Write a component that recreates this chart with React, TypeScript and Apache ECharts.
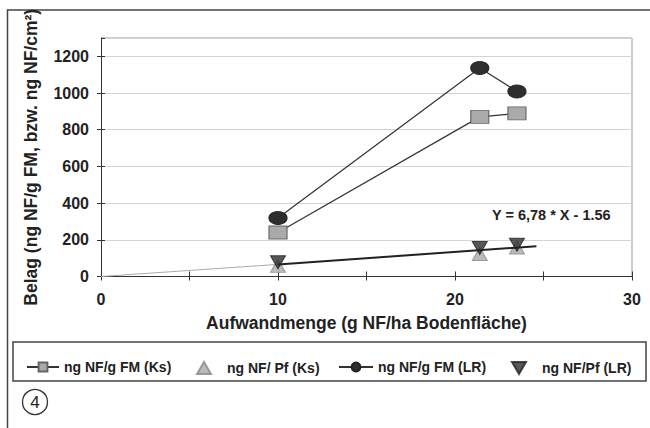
import React, { useEffect, useRef } from "react";
import * as echarts from "echarts";

const xKs = [10, 21.4, 23.5];
const fmKs = [240, 870, 889];
const pfKs = [58, 123, 158];
const fmLR = [319, 1137, 1009];
const pfLR = [78, 155, 173];
const trendThinX = [0, 10];
const trendThinY = [0, 66];
const trendX = [10, 24.6];
const trendY = [66, 165];
const xTicks = [0, 10, 20, 30];
const names = ["ng NF/g FM (Ks)", "ng NF/ Pf (Ks)", "ng NF/g FM (LR)", "ng NF/Pf (LR)"];

const FONT = "'Liberation Sans', Arial, Helvetica, sans-serif";
const zip = (xs: number[], ys: number[]) => xs.map((x, i) => [x, ys[i]]);

const TRI_UP = "path://M0,0M32,12M7,12L14,0L21,12Z";
const TRI_DOWN = "path://M0,0M32,12M7,0L21,0L14,12Z";

const legendText = { color: "#222", fontFamily: FONT, fontWeight: "bold", fontSize: 14 };

export default function App() {
  const ref = useRef<HTMLDivElement>(null);
  useEffect(() => {
    const chart = echarts.init(ref.current!, null, { renderer: "svg" });
    const plain = {
      type: "value",
      axisLine: { show: false, onZero: false },
      axisLabel: { show: false },
      splitLine: { show: false },
    };
    chart.setOption({
      animation: false,
      backgroundColor: "#fff",
      textStyle: { fontFamily: FONT },
      grid: { left: 101, right: 18, top: 38, bottom: 151.5 },
      xAxis: [
        {
          type: "value",
          min: 0,
          max: 30,
          interval: 5,
          axisLine: { lineStyle: { color: "#333", width: 1 } },
          axisTick: { show: true, length: 4, lineStyle: { color: "#333" } },
          axisLabel: {
            color: "#222",
            fontFamily: FONT,
            fontWeight: "bold",
            fontSize: 16,
            margin: 15,
            formatter: (v: number) => (xTicks.includes(v) ? String(v) : ""),
          },
          splitLine: { show: false },
          name: "Aufwandmenge (g NF/ha Bodenfläche)",
          nameLocation: "middle",
          nameGap: 37,
          nameTextStyle: { color: "#222", fontFamily: FONT, fontWeight: "bold", fontSize: 17.5 },
        },
        {
          ...plain,
          min: 0,
          max: 30,
          interval: 5,
          position: "bottom",
          axisTick: { show: true, inside: true, length: 5, lineStyle: { color: "#333" } },
        },
      ],
      yAxis: [
        {
          type: "value",
          min: 0,
          max: 1300,
          interval: 200,
          axisLine: { show: true, lineStyle: { color: "#333", width: 1 } },
          axisTick: { show: true, length: 4, lineStyle: { color: "#333" } },
          axisLabel: {
            color: "#222",
            fontFamily: FONT,
            fontWeight: "bold",
            fontSize: 16,
            margin: 12,
            showMaxLabel: false,
            formatter: (v: number) => (v > 1200 ? "" : String(v)),
          },
          splitLine: { show: true, lineStyle: { color: "#d4d4d4", width: 1 } },
          name: "Belag (ng NF/g FM, bzw. ng NF/cm²)",
          nameLocation: "middle",
          nameGap: 61,
          nameTextStyle: { color: "#222", fontFamily: FONT, fontWeight: "bold", fontSize: 17.5 },
        },
        {
          ...plain,
          min: 0,
          max: 1300,
          interval: 200,
          position: "left",
          axisTick: { show: true, inside: true, length: 4, lineStyle: { color: "#333" } },
        },
      ],
      legend: [
        {
          data: [names[0]],
          left: 21,
          top: 355,
          itemWidth: 32,
          itemHeight: 11,
          itemGap: 0,
          textStyle: legendText,
        },
        {
          data: [{ name: names[1], icon: TRI_UP }],
          left: 184,
          top: 356,
          itemWidth: 32,
          itemHeight: 12,
          itemGap: 0,
          textStyle: legendText,
        },
        {
          data: [names[2]],
          left: 333,
          top: 355,
          itemWidth: 34,
          itemHeight: 11,
          itemGap: 0,
          textStyle: legendText,
        },
        {
          data: [{ name: names[3], icon: TRI_DOWN }],
          left: 499,
          top: 356,
          itemWidth: 32,
          itemHeight: 12,
          itemGap: 0,
          textStyle: legendText,
        },
      ],
      series: [
        {
          name: names[0],
          type: "line",
          data: zip(xKs, fmKs),
          symbol: "rect",
          symbolSize: [18, 13],
          lineStyle: { color: "#333", width: 1.2 },
          itemStyle: { color: "#aaa", borderColor: "#666", borderWidth: 1 },
        },
        {
          name: names[1],
          type: "scatter",
          data: zip(xKs, pfKs),
          symbol: "triangle",
          symbolSize: [15, 13],
          itemStyle: { color: "#aaa", borderColor: "#888", borderWidth: 1 },
          z: 3,
        },
        {
          name: names[2],
          type: "line",
          data: zip(xKs, fmLR),
          symbol: "circle",
          symbolSize: [18, 13],
          lineStyle: { color: "#333", width: 1.2 },
          itemStyle: { color: "#2e2e2e", borderColor: "#222", borderWidth: 1 },
        },
        {
          name: names[3],
          type: "scatter",
          data: zip(xKs, pfLR),
          symbol: "triangle",
          symbolRotate: 180,
          symbolSize: [15, 13],
          itemStyle: { color: "#2e2e2e", borderColor: "#222", borderWidth: 1 },
          z: 4,
        },
        {
          name: "trendThin",
          type: "line",
          data: zip(trendThinX, trendThinY),
          symbol: "none",
          lineStyle: { color: "#aaa", width: 1 },
          z: 1,
        },
        {
          name: "trend",
          type: "line",
          data: zip(trendX, trendY),
          symbol: "none",
          lineStyle: { color: "#222", width: 2 },
          z: 5,
        },
      ],
      graphic: [
        {
          type: "rect",
          shape: { x: 7.5, y: 10, width: 660, height: 440 },
          style: { fill: "none", stroke: "#444", lineWidth: 1.5 },
          silent: true,
        },
        {
          type: "polyline",
          shape: { points: [[101, 38], [632, 38], [632, 276.5]] },
          style: { fill: "none", stroke: "#999", lineWidth: 1 },
          silent: true,
        },
        {
          type: "rect",
          shape: { x: 13, y: 342, width: 633, height: 39 },
          style: { fill: "none", stroke: "#444", lineWidth: 1.5 },
          silent: true,
        },
        {
          type: "text",
          x: 492,
          y: 215,
          style: {
            text: "Y = 6,78 * X - 1.56",
            fill: "#222",
            font: `bold 14.5px ${FONT}`,
            verticalAlign: "middle",
          },
        },
        {
          type: "circle",
          shape: { cx: 35, cy: 402, r: 12.5 },
          style: { fill: "none", stroke: "#333", lineWidth: 1.3 },
        },
        {
          type: "text",
          x: 35,
          y: 402.5,
          style: {
            text: "4",
            fill: "#222",
            font: `17px ${FONT}`,
            align: "center",
            verticalAlign: "middle",
          },
        },
      ],
    });
    return () => chart.dispose();
  }, []);
  return <div ref={ref} style={{ width: 650, height: 428, position: "absolute", left: 0, top: 0 }} />;
}
